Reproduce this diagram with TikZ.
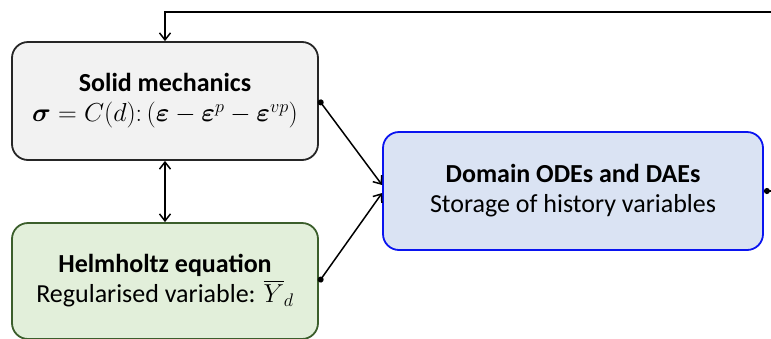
\RequirePackage{fix-cm}
\documentclass[tikz,border=0pt]{standalone}
\usepackage{amsmath,bm}
\usepackage{fontspec}
\setmainfont{Carlito}
\usetikzlibrary{arrows.meta}
\definecolor{grayfill}{HTML}{F2F2F2}
\definecolor{greenfill}{HTML}{E2EFDA}
\definecolor{greenline}{HTML}{3B5E2B}
\definecolor{bluefill}{HTML}{DAE3F3}
\definecolor{blueline}{HTML}{0A14F0}
\tikzset{
  boxstyle/.style={rectangle, rounded corners=16pt, line width=1.8pt, align=center,
    font=\fontsize{26}{30}\selectfont, inner sep=0pt},
  conn/.style={line width=1.5pt, -{Straight Barb[length=7pt,width=11pt,line width=1.5pt]}},
  dotstart/.style={line width=1.5pt, {Circle[length=6pt]}-{Straight Barb[length=7pt,width=11pt,line width=1.5pt]}},
}
\begin{document}
\begin{tikzpicture}[x=1pt,y=-1pt]
\useasboundingbox (0,0) rectangle (771,338);
\node[boxstyle, draw=black!85, fill=grayfill, minimum width=306pt, minimum height=118pt] (solid) at (165,101)
  {\textbf{Solid mechanics}\\ $\bm{\sigma}=C(d){:}\,(\bm{\varepsilon}-\bm{\varepsilon}^{p}-\bm{\varepsilon}^{vp})$};
\node[boxstyle, draw=greenline, fill=greenfill, minimum width=306pt, minimum height=116pt] (helm) at (165,281)
  {\textbf{Helmholtz equation}\\ Regularised variable: $\overline{Y}_{d}$};
\node[boxstyle, draw=blueline, fill=bluefill, minimum width=380pt, minimum height=118pt] (dom) at (573,191)
  {\textbf{Domain ODEs and DAEs}\\ Storage of history variables};
\coordinate (topright) at (771,12);
\coordinate (topleft) at (165,12);
\coordinate (rightend) at (771,191);
\draw[conn] (topright) -- (topleft) -- (solid.north);
\draw[line width=1.5pt, {Straight Barb[length=7pt,width=11pt,line width=1.5pt]}-{Straight Barb[length=7pt,width=11pt,line width=1.5pt]}] (solid.south) -- (helm.north);
\draw[dotstart] ([yshift=1pt]solid.east) -- ([yshift=6pt]dom.west);
\draw[dotstart] ([yshift=-1pt]helm.east) -- ([yshift=-2pt]dom.west);
\draw[line width=1.5pt, {Circle[length=6pt]}-] (dom.east) -- (rightend);
\end{tikzpicture}
\end{document}
